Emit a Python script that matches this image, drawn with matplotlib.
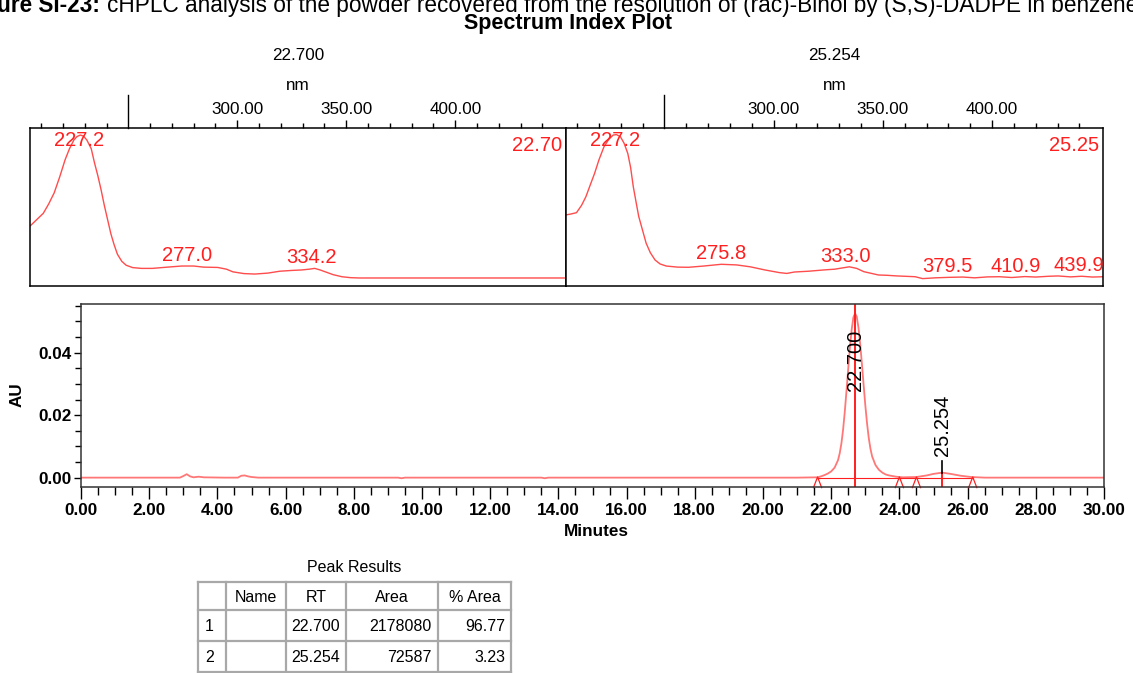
import matplotlib.pyplot as plt
import numpy as np

plt.rcParams['font.family'] = ['Liberation Sans', 'DejaVu Sans']

W, H = 1133, 673

# UV spectrum taken at 22.700 min
spec1_nm = [205, 208, 211, 213.5, 216, 218.5, 221, 223, 225, 226.5, 228, 229.5, 231, 233, 234.5,
            236, 237.5, 239, 240.5, 242, 243.5, 245, 247, 249, 252, 256, 261, 268, 274.5, 280,
            284.5, 291, 295, 298, 303, 308, 314, 319.5, 325, 329.5, 333, 335.5, 338, 341, 344,
            348, 352, 356, 450]
spec1_abs = [0.38, 0.42, 0.46, 0.52, 0.59, 0.69, 0.80, 0.87, 0.925, 0.948, 0.957, 0.95, 0.925,
             0.87, 0.78, 0.70, 0.61, 0.51, 0.42, 0.33, 0.26, 0.20, 0.155, 0.13, 0.115, 0.11,
             0.11, 0.118, 0.125, 0.125, 0.118, 0.116, 0.105, 0.088, 0.077, 0.074, 0.08, 0.092,
             0.097, 0.10, 0.105, 0.11, 0.10, 0.085, 0.07, 0.057, 0.051, 0.049, 0.049]
spec1_peaks = [227.2, 277.0, 334.2]
spec1_rt = '22.700'

# UV spectrum taken at 25.254 min
spec2_nm = [205, 207, 209.7, 212, 214, 216, 218, 220, 222.3, 224.5, 226.5, 228, 229.8, 231.5,
            233.2, 234.5, 235.7, 237, 238.2, 240, 241.6, 243.5, 245.7, 248, 250.8, 256, 261,
            268, 276, 283, 289.3, 296, 302.7, 306, 309.5, 316, 322.8, 328, 334.6, 338, 341.3,
            348, 352, 356.4, 360, 364.8, 368.2, 374, 380, 386.6, 392, 398, 403.4, 409, 415, 420,
            426, 430.2, 436, 441, 446, 451]
spec2_abs = [0.45, 0.455, 0.464, 0.51, 0.565, 0.64, 0.714, 0.80, 0.883, 0.93, 0.957, 0.96, 0.947,
             0.905, 0.84, 0.75, 0.63, 0.53, 0.44, 0.35, 0.27, 0.21, 0.163, 0.138, 0.125, 0.118,
             0.117, 0.125, 0.136, 0.132, 0.12, 0.10, 0.083, 0.078, 0.087, 0.092, 0.10, 0.105,
             0.12, 0.11, 0.089, 0.068, 0.066, 0.062, 0.06, 0.057, 0.045, 0.05, 0.053, 0.055,
             0.05, 0.056, 0.057, 0.052, 0.058, 0.055, 0.06, 0.062, 0.056, 0.06, 0.055, 0.057]
spec2_peaks = [227.2, 275.8, 333.0, 379.5, 410.9, 439.9]
spec2_rt = '25.254'

# chromatogram
chrom_t = [0, 2.9, 3.0, 3.1, 3.2, 3.3, 3.45, 3.6, 4.2, 4.6, 4.7, 4.8, 4.9, 5.0, 5.2, 9.3, 9.4,
           9.5, 13.5, 13.6, 13.7, 21.0, 21.6, 21.7, 21.8, 21.9, 22.0, 22.1, 22.2, 22.25, 22.3,
           22.35, 22.4, 22.45, 22.5, 22.55, 22.6, 22.65, 22.7, 22.75, 22.8, 22.85, 22.9, 22.95,
           23.0, 23.05, 23.1, 23.15, 23.2, 23.3, 23.4, 23.5, 23.6, 23.7, 23.9, 24.1, 24.5, 24.8,
           25.0, 25.254, 25.5, 25.8, 26.1, 26.5, 30.0]
chrom_au = [0, 0, 0.0005, 0.0011, 0.0004, 0.0001, 0.0003, 0.0001, 0, 0, 0.0006, 0.0007, 0.0004,
            0.0002, 0, 0, -0.0002, 0, 0, -0.0002, 0, 0, 0.0001, 0.0004, 0.0008, 0.0013, 0.0020,
            0.0032, 0.0056, 0.0078, 0.0110, 0.0155, 0.0213, 0.0280, 0.0350, 0.0418, 0.0474,
            0.0513, 0.0526, 0.0515, 0.0480, 0.0428, 0.0365, 0.0298, 0.0232, 0.0175, 0.0128,
            0.0093, 0.0068, 0.0040, 0.0025, 0.0016, 0.0010, 0.0007, 0.0003, 0.0001, 0.0002,
            0.0007, 0.0012, 0.0016, 0.0012, 0.0006, 0.0002, 0, 0]
peak_rt = [22.700, 25.254]
peak_top = [0.0526, 0.0016]
peak_bounds = [21.6, 24.0, 24.5, 26.15]

table_title = 'Peak Results'
table_cols = ['', 'Name', 'RT', 'Area', '% Area']
table_rows = [['1', '', '22.700', '2178080', '96.77'],
              ['2', '', '25.254', '72587', '3.23']]

red = '#ff1f1f'

fig = plt.figure(figsize=(W / 100, H / 100), dpi=100)


def px_axes(x0, y0, x1, y1):
    return fig.add_axes([x0 / W, 1 - y1 / H, (x1 - x0) / W, (y1 - y0) / H])


def fig_text(x, y, s, **kw):
    fig.text(x / W, 1 - y / H, s, **kw)


# overlay in pixel units for the table
ov = px_axes(0, 0, W, H)
ov.set_xlim(0, W)
ov.set_ylim(H, 0)
ov.axis('off')

# caption (cut at the top edge like the source)
fig_text(100, 11.7, 'Figure SI-23:', ha='right', va='baseline', fontsize=16.3, fontweight='bold')
fig_text(107, 11.7, 'cHPLC analysis of the powder recovered from the resolution of (rac)-Binol by '
         '(S,S)-DADPE in benzene', ha='left', va='baseline', fontsize=16.3)
fig_text(568, 23, 'Spectrum Index Plot', ha='center', va='center', fontsize=15.5, fontweight='bold')

# spectrum panels
for (x0, x1), nm, ab, peaks, rt in [((30, 566), spec1_nm, spec1_abs, spec1_peaks, spec1_rt),
                                    ((566, 1103), spec2_nm, spec2_abs, spec2_peaks, spec2_rt)]:
    ax = px_axes(x0, 128.3, x1, 285.7)
    ax.plot(nm, ab, color=red, lw=1.0, alpha=0.8)
    ax.set_xlim(204.9, 450.8)
    ax.set_ylim(0, 1)
    ax.xaxis.tick_top()
    ax.set_yticks([])
    ax.set_xticks([300, 350, 400])
    ax.set_xticklabels(['300.00', '350.00', '400.00'], fontsize=12.3)
    ax.set_xticks([t for t in range(210, 450, 10) if t % 50], minor=True)
    ax.tick_params(axis='x', which='major', length=5.8, width=1, pad=2.5)
    ax.tick_params(axis='x', which='minor', length=3.6, width=1)
    for s in ax.spines.values():
        s.set_linewidth(1.1)
    ax.plot([250, 250], [1, 1 + 33 / 157.4], transform=ax.get_xaxis_transform(),
            clip_on=False, color='black', lw=1)
    ax.text(250, 1 + 200 / 157.4, '250.00', transform=ax.get_xaxis_transform(),
            ha='center', va='center', fontsize=12.3)
    for p in peaks:
        y = min(np.interp(p, nm, ab) + 0.07, 0.92)
        ax.text(p, y, f'{p:.1f}', color=red, ha='center', va='center', fontsize=14.5)
    ax.text(0.993, 0.89, rt[:5], transform=ax.transAxes, color=red, ha='right', va='center',
            fontsize=14.5)
    xc = (x0 + x1) / 2
    fig_text(xc, 86, 'nm', ha='center', va='center', fontsize=12.3)
    fig_text(xc, 56, rt, ha='center', va='center', fontsize=12.3)

# chromatogram
cx = px_axes(81, 304.3, 1104, 487)
cx.plot(chrom_t, chrom_au, color='#ff4a4a', lw=1.3, alpha=0.75)
cx.plot([peak_bounds[0], peak_bounds[-1]], [0, 0], color=red, lw=0.8)
cx.set_xlim(0, 30)
cx.set_ylim(-0.003, 0.0555)
cx.axvline(peak_rt[0], color=red, lw=1.4)
cx.plot([peak_rt[1], peak_rt[1]], [-0.003, peak_top[1]], color=red, lw=1.4)
cx.plot([peak_rt[1], peak_rt[1]], [peak_top[1], 0.0054], color='black', lw=1.2)
for b in peak_bounds:
    cx.plot([b - 0.12, b, b + 0.12], [-0.0032, 0.0002, -0.0032], color=red, lw=0.9,
            clip_on=False)
cx.text(peak_rt[0], 0.0377, f'{peak_rt[0]:.3f}', rotation=90, ha='center', va='center',
        fontsize=14.5)
cx.text(peak_rt[1], 0.0169, f'{peak_rt[1]:.3f}', rotation=90, ha='center', va='center',
        fontsize=14.5)
cx.set_xticks(np.arange(0, 30.1, 2))
cx.set_xticklabels([f'{t:.2f}' for t in np.arange(0, 30.1, 2)])
cx.set_xticks(np.arange(0, 30.1, 0.5), minor=True)
cx.set_yticks([0, 0.02, 0.04])
cx.set_yticklabels(['0.00', '0.02', '0.04'])
cx.set_yticks(np.arange(0, 0.0551, 0.005), minor=True)
cx.tick_params(axis='x', which='major', length=8.6, width=1, pad=3, labelsize=12.3)
cx.tick_params(axis='x', which='minor', length=5.5, width=1)
cx.tick_params(axis='y', which='major', length=5.3, width=1, pad=1.5, labelsize=12.3)
cx.tick_params(axis='y', which='minor', length=4.1, width=1)
for lab in cx.get_xticklabels() + cx.get_yticklabels():
    lab.set_fontweight('bold')
for s in cx.spines.values():
    s.set_linewidth(1.1)
    s.set_color('#333333')
fig_text(17, 395, 'AU', rotation=90, ha='center', va='center', fontsize=12.3, fontweight='bold')
fig_text(596, 532, 'Minutes', ha='center', va='center', fontsize=12.3, fontweight='bold')

# peak results table
col_x = [198, 226, 286, 346, 438, 511]
row_y = [582, 610, 641, 672]
ov.text(354, 567, table_title, ha='center', va='center', fontsize=11.5)
for x in col_x:
    ov.plot([x, x], [row_y[0], row_y[-1]], color='#a8a8a8', lw=1.6)
for y in row_y:
    ov.plot([col_x[0], col_x[-1]], [y, y], color='#a8a8a8', lw=1.6)
for j, c in enumerate(table_cols):
    ov.text((col_x[j] + col_x[j + 1]) / 2, (row_y[0] + row_y[1]) / 2 + 1, c,
            ha='center', va='center', fontsize=11.5)
for i, row in enumerate(table_rows):
    yc = (row_y[i + 1] + row_y[i + 2]) / 2 + 1
    ov.text(col_x[0] + 7, yc, row[0], ha='left', va='center', fontsize=11.5)
    for j in range(2, 5):
        ov.text(col_x[j + 1] - 6, yc, row[j], ha='right', va='center', fontsize=11.5)

fig.savefig('out.png', dpi=100)
